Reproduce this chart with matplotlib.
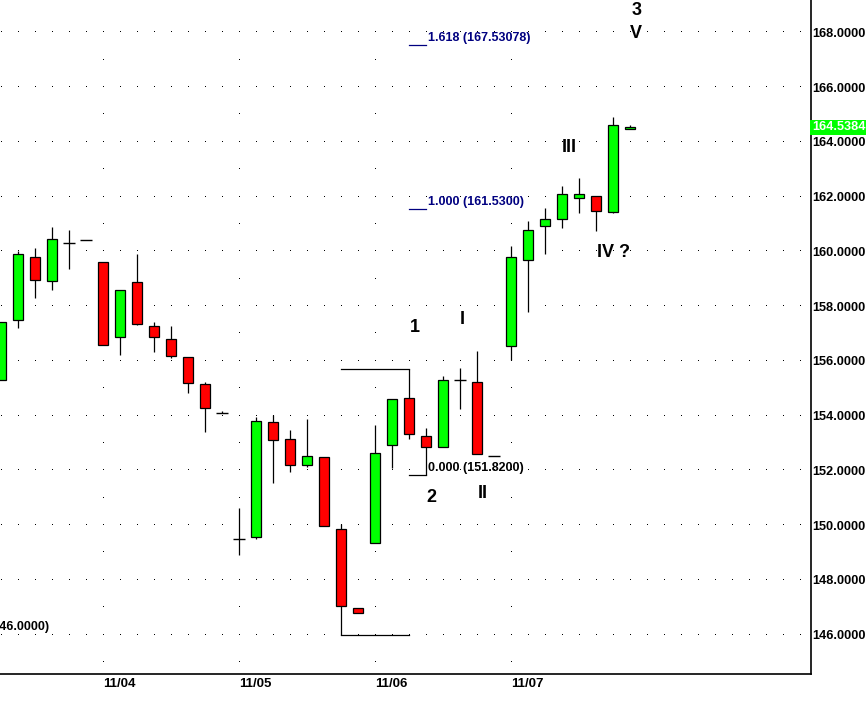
import numpy as np
import matplotlib.pyplot as plt

plt.rcParams['font.family'] = ['Liberation Sans', 'DejaVu Sans']

# 3-hour bars, index 0 = 11/04 00:00 (8 bars per day)
idx = np.arange(-6, 32)
opens = [155.30, 157.50, 159.79, 158.91, 160.29, 160.40, 159.61, 156.86, 158.87, 157.26,
         156.80, 156.14, 155.14, 154.08, 149.48, 149.58, 153.75, 153.13, 152.21, 152.47,
         149.87, 146.98, 149.33, 152.91, 154.63, 153.25, 152.84, 155.29, 155.21, 152.52,
         156.53, 159.68, 160.91, 161.18, 161.95, 162.02, 161.44, 164.48]
highs = [157.43, 160.00, 160.13, 160.90, 160.79, 160.43, 159.61, 158.58, 159.91, 157.42,
         157.28, 156.14, 155.21, 154.15, 150.61, 153.93, 154.02, 153.47, 153.87, 152.47,
         150.03, 146.98, 153.65, 154.59, 155.69, 153.54, 155.43, 155.73, 156.35, 152.52,
         160.20, 161.12, 161.58, 162.40, 162.69, 162.02, 164.89, 164.60]
lows = [155.30, 157.19, 158.31, 158.60, 159.37, 160.40, 156.57, 156.22, 157.30, 156.33,
        156.09, 154.83, 153.41, 154.08, 148.90, 149.49, 151.54, 151.94, 152.13, 149.95,
        146.00, 146.80, 149.33, 152.09, 153.15, 151.82, 152.84, 154.23, 152.58, 152.52,
        156.03, 157.80, 159.92, 160.84, 161.39, 160.76, 161.40, 164.48]
closes = [157.43, 159.90, 158.95, 160.45, 160.31, 160.40, 156.57, 158.58, 157.34, 156.86,
          156.17, 155.18, 154.26, 154.08, 149.50, 153.79, 153.09, 152.21, 152.51, 149.95,
          147.05, 146.80, 152.62, 154.59, 153.31, 152.84, 155.29, 155.31, 152.58, 152.52,
          159.79, 160.78, 161.18, 162.10, 162.10, 161.47, 164.62, 164.5384]
last_price = 164.5384

day_idx = [0, 8, 16, 24]
day_labels = ['11/04', '11/05', '11/06', '11/07']
price_ticks = list(range(146, 169, 2))

# fib tool anchored between bars 18 and 19
fib_start, fib_end = 18, 19
fib_values = [151.82, 161.53, 167.53078]
fib_labels = ['0.000 (151.8200)', '1.000 (161.5300)', '1.618 (167.53078)']
fib_colors = ['black', '#000080', '#000080']

wave_labels = ['1', '2', 'I', 'II', 'III', 'IV ?', '3', 'V']
wave_x = [18.3, 19.3, 21.1, 22.3, 27.4, 30.0, 31.35, 31.35]
wave_y = [157.2, 151.0, 157.5, 151.15, 163.8, 159.95, 168.78, 167.95]

fig = plt.figure(figsize=(8.66, 7.03), dpi=100)
ax = fig.add_axes([0, 29 / 703, 811 / 866, 674 / 703])
ax.set_xlim(-6.08, 41.63)
ax.set_ylim(144.56, 169.18)

# dotted grid
gx = np.arange(-6, 42)
for lvl in price_ticks:
    ax.plot(gx, np.full(gx.size, lvl), ls='none', marker=',', color='black', zorder=0)
vy = np.arange(145, 168)
for d in day_idx:
    ax.plot(np.full(vy.size, d), vy, ls='none', marker=',', color='black', zorder=0)

# candles
w = 0.6
for i, o, h, l, c in zip(idx, opens, highs, lows, closes):
    ax.vlines(i, l, h, color='black', lw=0.9, zorder=2)
    if abs(c - o) < 0.03:
        ax.hlines(c, i - 0.35, i + 0.35, color='black', lw=1.0, zorder=3)
    else:
        col = '#00ff00' if c > o else '#ff0000'
        ax.bar(i, c - o, bottom=o, width=w, color=col, edgecolor='black', lw=0.9, zorder=3)

# wave brackets
lo_i = 14
ax.plot([lo_i, fib_start], [highs[fib_start + 6], highs[fib_start + 6]], color='black', lw=0.9)
ax.plot([lo_i, fib_start], [lows[lo_i + 6], lows[lo_i + 6]], color='black', lw=0.9)

# fib levels
for v, lab, col in zip(fib_values, fib_labels, fib_colors):
    ax.plot([fib_start, fib_end], [v, v], color=col, lw=0.9)
    ax.text(fib_end + 0.1, v + 0.05, lab, color=col, fontsize=9, fontweight='bold',
            ha='left', va='bottom')
ax.text(-3.15, 146.05, '(146.0000)', color='black', fontsize=9, fontweight='bold',
        ha='right', va='bottom')

for t, x, y in zip(wave_labels, wave_x, wave_y):
    ax.text(x, y, t, fontsize=13, fontweight='bold', ha='center', va='center', color='black')

# axes
ax.yaxis.tick_right()
ax.set_yticks(price_ticks)
ax.set_yticklabels([f'{v:.4f}' for v in price_ticks], fontsize=9.2, fontweight='bold')
ax.set_xticks(day_idx)
ax.set_xticklabels(day_labels, fontsize=9.5, fontweight='bold', ha='left')
ax.tick_params(axis='y', length=0, pad=0.8)
ax.tick_params(axis='x', length=0, pad=3)
for s in ['left', 'top']:
    ax.spines[s].set_visible(False)
for s in ['right', 'bottom']:
    ax.spines[s].set_linewidth(1.2)

ax.text(1.001, last_price, f'{last_price:.4f}', transform=ax.get_yaxis_transform(),
        color='white', fontsize=9.2, fontweight='bold', ha='left', va='center',
        bbox=dict(boxstyle='square,pad=0.12', fc='#00ff00', ec='none'))

fig.savefig('out.png', dpi=100)
